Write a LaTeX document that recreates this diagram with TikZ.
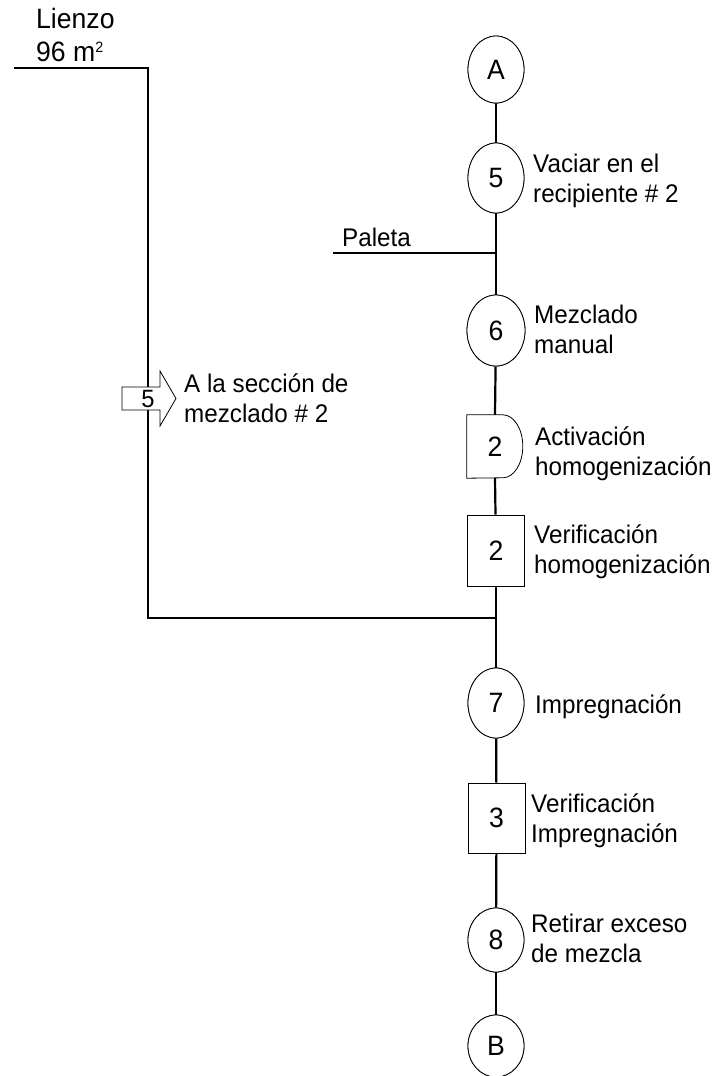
\documentclass[tikz,border=0pt]{standalone}
\usepackage{fontspec}
\setmainfont{Liberation Sans}[FakeStretch=0.95]
\usetikzlibrary{shapes.geometric}
\begin{document}
\begin{tikzpicture}[x=1pt,y=-1pt,
  flow/.style={line width=2.2pt},
  outline/.style={draw,line width=0.8pt,fill=white},
  opnode/.style={outline,ellipse,minimum width=56pt,minimum height=68pt,inner sep=0pt,font=\fontsize{28}{30}\selectfont},
  inspnode/.style={outline,rectangle,minimum width=57pt,minimum height=68pt,inner sep=0pt,font=\fontsize{28}{30}\selectfont},
  lbl/.style={anchor=base west,inner sep=0pt,font=\fontsize{25.5}{30}\selectfont},
  biglbl/.style={anchor=base west,inner sep=0pt,font=\fontsize{28}{30}\selectfont},
]
\useasboundingbox (0,0) rectangle (713,1076);

% node positions (drawn later on top of the connectors)
\path (496,69.5) coordinate (cA) (496,178) coordinate (c5) (496,330.5) coordinate (c6)
      (495,446.5) coordinate (cd) (496,550.5) coordinate (cs2) (496,703) coordinate (c7)
      (496.5,818) coordinate (cs3) (496,940) coordinate (c8) (496,1046) coordinate (cB);

\node[opnode,minimum height=67pt] (A) at (cA) {A};
\node[opnode,minimum height=70pt] (o5) at (c5) {5};
\node[opnode,minimum width=58pt,minimum height=71pt] (o6) at (c6) {6};
\node[inner sep=0pt,minimum width=56pt,minimum height=63pt] (d2) at (cd) {};
\node[inspnode,minimum height=71pt] (s2) at (cs2) {2};
\node[opnode,minimum height=70pt] (o7) at (c7) {7};
\node[inspnode,minimum height=70pt] (s3) at (cs3) {3};
\node[opnode,minimum height=64pt] (o8) at (c8) {8};
\node[opnode,minimum height=62pt] (B) at (cB) {B};

\coordinate (Pj) at (496,253);
\coordinate (P0) at (333,253);
\coordinate (J) at (496,618);
\coordinate (L0) at (14,68);
\coordinate (L1) at (148,68);

% connectors
\draw[flow] (A) -- (o5);
\draw[flow] (o5) -- (o6);
\draw[flow] (o6) -- (d2.north);
\draw[flow] (d2.south) -- (s2);
\draw[flow] (s2) -- (o7);
\draw[flow] (o7) -- (s3);
\draw[flow] (s3) -- (o8);
\draw[flow] (o8) -- (B);
\draw[flow] (P0) -- (Pj);
\draw[flow] (L0) -- (L1) |- (J);

% shapes on top of the connectors
\node[opnode,minimum height=67pt] at (cA) {A};
\node[opnode,minimum height=70pt] at (c5) {5};
\node[opnode,minimum width=58pt,minimum height=71pt] at (c6) {6};
\draw[outline] (d2.north west) -- ++(36,0) arc[start angle=90,end angle=-90,x radius=20pt,y radius=31.5pt] -- (d2.south west) -- cycle;
\node[font=\fontsize{28}{30}\selectfont,inner sep=0pt] (d2t) at (d2) {2};
\node[inspnode,minimum height=71pt] at (cs2) {2};
\node[opnode,minimum height=70pt] at (c7) {7};
\node[inspnode,minimum height=70pt] at (cs3) {3};
\node[opnode,minimum height=64pt] at (c8) {8};
\node[opnode,minimum height=62pt] at (cB) {B};

% transport arrow
\draw[outline] (122,387) -- (160,387) -- (160,371) -- (176,398.5) -- (160,426) -- (160,410) -- (122,410) -- cycle;
\node[inner sep=0pt,font=\fontsize{25}{30}\selectfont] (t5) at (148,399) {5};

% labels
\node[biglbl] (lz1) at (36,28) {Lienzo};
\node[biglbl] (lz2) at (36,61) {96 m\raisebox{9pt}{\fontsize{15}{15}\selectfont 2}};
\node[lbl] (pal) at (342,246) {Paleta};
\node[lbl] (l5a) at (533,172) {Vaciar en el};
\node[lbl] (l5b) at (533,202) {recipiente \# 2};
\node[lbl] (l6a) at (534,323.5) {Mezclado};
\node[lbl] (l6b) at (534,353.5) {manual};
\node[lbl] (lta) at (184,392) {A la sección de};
\node[lbl] (ltb) at (184,422) {mezclado \# 2};
\node[lbl] (lda) at (535,445) {Activación};
\node[lbl] (ldb) at (535,475) {homogenización};
\node[lbl] (lsa) at (534,543) {Verificación};
\node[lbl] (lsb) at (534,573) {homogenización};
\node[lbl] (l7) at (535,713) {Impregnación};
\node[lbl] (l3a) at (531,812) {Verificación};
\node[lbl] (l3b) at (531,842) {Impregnación};
\node[lbl] (l8a) at (531,932) {Retirar exceso};
\node[lbl] (l8b) at (531,962) {de mezcla};
\end{tikzpicture}
\end{document}
